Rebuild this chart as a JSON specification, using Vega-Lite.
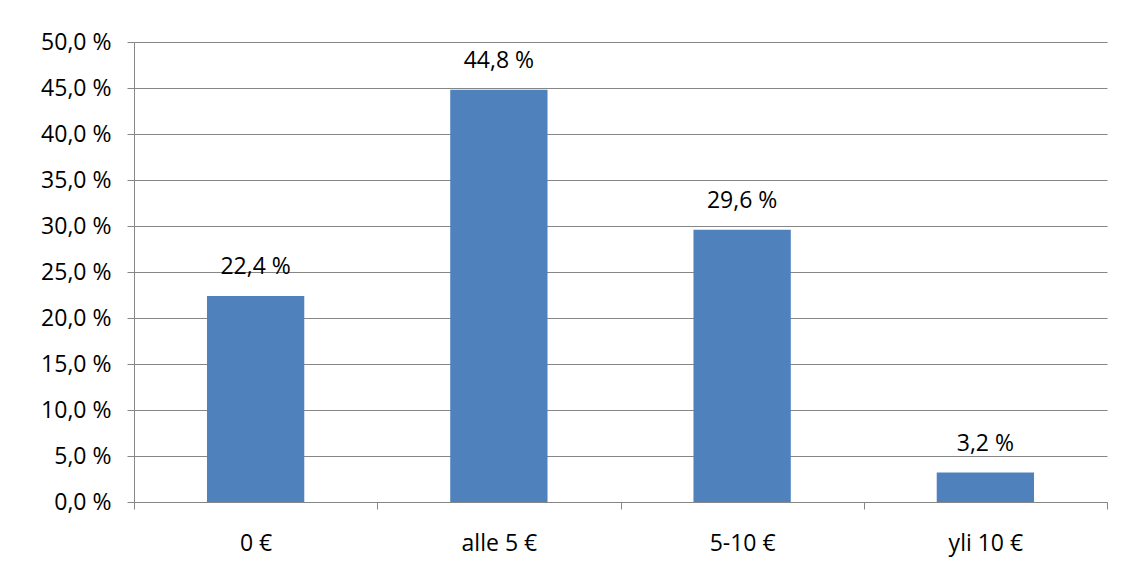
{
  "$schema": "https://vega.github.io/schema/vega-lite/v6.json",
  "autosize": "none",
  "width": 973,
  "height": 460,
  "padding": {"left": 134, "top": 42, "right": 27, "bottom": 79},
  "background": "white",
  "config": {
    "locale": {"number": {"decimal": ",", "thousands": " ", "grouping": [3], "currency": ["", " €"], "percent": " %"}},
    "view": {"stroke": null},
    "font": "Open Sans",
    "axis": {"labelFont": "Open Sans", "labelFontSize": 23, "labelColor": "#000000", "domainColor": "#868686", "tickColor": "#868686", "gridColor": "#868686", "tickSize": 7, "title": null, "labelOverlap": false}
  },
  "data": {"values": [
    {"category": "0 €", "share": 0.224},
    {"category": "alle 5 €", "share": 0.448},
    {"category": "5-10 €", "share": 0.296},
    {"category": "yli 10 €", "share": 0.032}
  ]},
  "encoding": {
    "x": {"field": "category", "type": "nominal", "sort": null,
      "scale": {"paddingInner": 0, "paddingOuter": 0},
      "axis": {"labelAngle": 0, "tickBand": "extent", "labelPadding": 23, "grid": false}},
    "y": {"field": "share", "type": "quantitative",
      "scale": {"domain": [0, 0.5], "nice": false},
      "axis": {"format": ".1%", "values": [0, 0.05, 0.1, 0.15, 0.2, 0.25, 0.3, 0.35, 0.4, 0.45, 0.5], "labelPadding": 16, "grid": true, "gridWidth": 1}}
  },
  "layer": [
    {"mark": {"type": "bar", "color": "#4F81BD", "width": {"band": 0.4}}},
    {"mark": {"type": "text", "baseline": "bottom", "dy": -17, "fontSize": 23, "font": "Open Sans", "color": "#000000"},
      "encoding": {"text": {"field": "share", "type": "quantitative", "format": ".1%"}}}
  ]
}
